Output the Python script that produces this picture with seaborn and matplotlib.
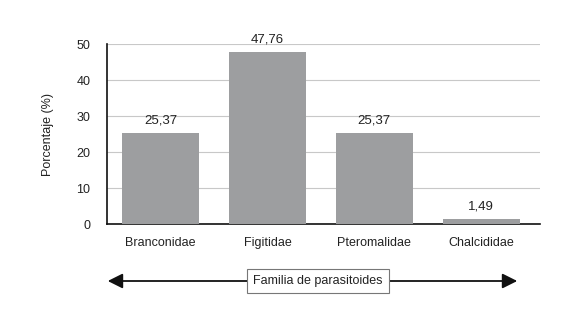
"""Porcentaje de parasitoides por familia."""

import matplotlib.pyplot as plt
import pandas as pd
import seaborn as sns
from matplotlib.patches import FancyArrowPatch

families = ["Branconidae", "Figitidae", "Pteromalidae", "Chalcididae"]
percentages = [25.37, 47.76, 25.37, 1.49]
value_labels = ["25,37", "47,76", "25,37", "1,49"]
y_ticks = [0, 10, 20, 30, 40, 50]


def main() -> None:
    df = pd.DataFrame({"familia": families, "porcentaje": percentages})
    sns.set_theme(style="white")
    plt.rcParams["font.family"] = ["Liberation Sans", "DejaVu Sans"]

    fig = plt.figure(figsize=(5.76, 3.13), dpi=100)
    ax = fig.add_axes([0.1858, 0.2843, 0.7517, 0.5751])

    sns.barplot(
        data=df,
        x="familia",
        y="porcentaje",
        color="#9d9ea0",
        width=0.72,
        saturation=1,
        linewidth=0,
        ax=ax,
        zorder=3,
    )

    for i, (v, lab) in enumerate(zip(percentages, value_labels)):
        ax.text(i, v + 1.8, lab, ha="center", va="bottom", fontsize=9.5, color="#222222")

    ax.set_xlim(-0.5, 3.55)
    ax.set_ylim(0, 50)
    ax.set_yticks(y_ticks)
    ax.yaxis.grid(True, color="#c8c8c8", linewidth=0.8, zorder=0)
    ax.tick_params(axis="both", length=0, labelsize=9, colors="#222222")
    ax.tick_params(axis="y", pad=12)
    ax.tick_params(axis="x", pad=9)
    for side in ["top", "right"]:
        ax.spines[side].set_visible(False)
    for side in ["left", "bottom"]:
        ax.spines[side].set_color("#111111")
        ax.spines[side].set_linewidth(1.2)
    ax.set_xlabel("")
    ax.set_ylabel("Porcentaje (%)", fontsize=9, color="#222222", labelpad=16)

    # arrow with the axis title
    fig.patches.append(
        FancyArrowPatch(
            (105 / 576, 1 - 281 / 313),
            (520 / 576, 1 - 281 / 313),
            transform=fig.transFigure,
            arrowstyle="<|-|>,head_length=9,head_width=4.5",
            mutation_scale=1,
            color="#111111",
            linewidth=1.3,
        )
    )
    fig.text(
        318 / 576,
        1 - 281 / 313,
        "Familia de parasitoides",
        ha="center",
        va="center",
        fontsize=9,
        color="#222222",
        bbox=dict(boxstyle="square,pad=0.5", facecolor="white", edgecolor="#777777", linewidth=0.8),
    )

    fig.savefig("out.png", dpi=100)
    plt.close(fig)


if __name__ == "__main__":
    main()
